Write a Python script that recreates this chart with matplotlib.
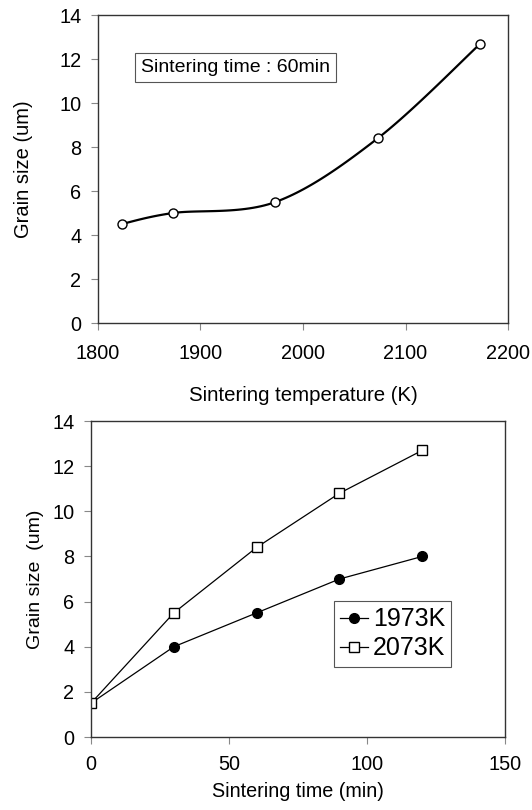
import numpy as np
import matplotlib
matplotlib.use('Agg')
import matplotlib.pyplot as plt

plt.rcParams['font.family'] = ['Liberation Sans', 'DejaVu Sans']

# top panel: grain size vs sintering temperature (60 min)
temp_k = [1823, 1873, 1973, 2073, 2173]
grain_temp = [4.5, 5.0, 5.5, 8.4, 12.7]

# bottom panel: grain size vs sintering time
time_min = [0, 30, 60, 90, 120]
grain_1973 = [1.5, 4.0, 5.5, 7.0, 8.0]
grain_2073 = [1.5, 5.5, 8.4, 10.8, 12.7]
series_labels = ['1973K', '2073K']


def smooth_line(x, y, n=30):
    # catmull-rom style smoothing, like a spreadsheet "smoothed line"
    p = np.column_stack([x, y]).astype(float)
    p = np.vstack([p[0], p, p[-1]])
    out = []
    t = np.linspace(0, 1, n)[:, None]
    for i in range(1, len(p) - 2):
        p0, p1, p2, p3 = p[i - 1], p[i], p[i + 1], p[i + 2]
        seg = 0.5 * ((2 * p1) + (-p0 + p2) * t + (2 * p0 - 5 * p1 + 4 * p2 - p3) * t ** 2
                     + (-p0 + 3 * p1 - 3 * p2 + p3) * t ** 3)
        out.append(seg)
    out = np.vstack(out)
    return out[:, 0], out[:, 1]


fig = plt.figure(figsize=(5.32, 8.10), dpi=100)

# ---- top panel
ax1 = fig.add_axes([0.1842, 0.6012, 0.7707, 0.3802])
sx, sy = smooth_line(temp_k, grain_temp)
ax1.plot(sx, sy, color='black', lw=1.6, zorder=2)
ax1.plot(temp_k, grain_temp, 'o', ms=6.5, mfc='white', mec='black', mew=1.0, zorder=3)
ax1.set_xlim(1800, 2200)
ax1.set_ylim(0, 14)
ax1.set_xticks([1800, 1900, 2000, 2100, 2200])
ax1.set_yticks(range(0, 15, 2))
ax1.set_xlabel('Sintering temperature (K)', fontsize=14.7, labelpad=17)
ax1.set_ylabel('Grain size (um)', fontsize=14.5, labelpad=19)
ax1.text(0.105, 0.83, 'Sintering time : 60min', transform=ax1.transAxes, fontsize=14,
         va='center', ha='left',
         bbox=dict(boxstyle='square,pad=0.3', fc='white', ec='#555555', lw=0.8))

# ---- bottom panel
ax2 = fig.add_axes([0.1711, 0.0901, 0.7782, 0.3901])
ax2.plot(time_min, grain_1973, '-o', color='black', lw=0.9, ms=7, mfc='black', mec='black',
         label=series_labels[0])
ax2.plot(time_min, grain_2073, '-s', color='black', lw=0.9, ms=7, mfc='white', mec='black',
         mew=1.0, label=series_labels[1])
ax2.set_xlim(0, 150)
ax2.set_ylim(0, 14)
ax2.set_xticks([0, 50, 100, 150])
ax2.set_yticks(range(0, 15, 2))
ax2.set_xlabel('Sintering time (min)', fontsize=14.2, labelpad=6)
ax2.set_ylabel('Grain size  (um)', fontsize=14, labelpad=6)
leg = ax2.legend(loc='upper left', bbox_to_anchor=(0.587, 0.43), borderaxespad=0,
                 fontsize=18, handlelength=1.1, handletextpad=0.2, borderpad=0.25,
                 labelspacing=0.2, fancybox=False, framealpha=1)
leg.get_frame().set_edgecolor('#555555')
leg.get_frame().set_linewidth(0.8)

for ax in (ax1, ax2):
    ax.tick_params(direction='out', length=5, width=0.8, color='#888888',
                   labelsize=14.3, pad=10)
    ax.tick_params(axis='y', pad=7)
    for s in ax.spines.values():
        s.set_linewidth(1.0)
        s.set_color('#333333')
ax2.tick_params(axis='x', pad=8)

fig.savefig('out.png', dpi=100)
